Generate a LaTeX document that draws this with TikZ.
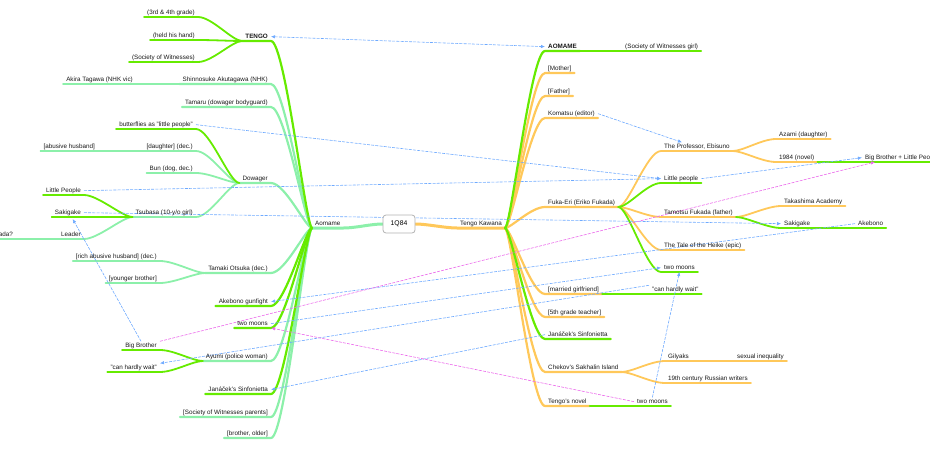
\documentclass[tikz,border=0pt]{standalone}
\usepackage{fontspec}
\setmainfont{Liberation Sans}
\usetikzlibrary{arrows.meta, backgrounds}
\definecolor{limeg}{RGB}{102,235,0}
\definecolor{mintg}{RGB}{140,240,170}
\definecolor{peach}{RGB}{255,200,90}
\definecolor{linkblue}{RGB}{110,170,255}
\definecolor{linkpink}{RGB}{235,105,235}
\newcommand{\mapfont}{\fontsize{6.3}{7}\selectfont}
\tikzstyle{topic} = [font=\mapfont, inner xsep=3pt, inner ysep=1.2pt, text height=4.6pt, text depth=1.3pt, text=black!90]
\tikzstyle{topicL} = [topic, anchor=south east]
\tikzstyle{topicR} = [topic, anchor=south west]
\tikzstyle{rootbox} = [rectangle, rounded corners=3pt, draw=gray!60, line width=0.8pt, fill=white, minimum width=32pt, minimum height=18pt, font=\fontsize{6.8}{8}\selectfont]
\tikzstyle{branch} = [line width=2.2pt, line cap=round]
\tikzstyle{twig} = [line width=1.8pt, line cap=round]
\tikzstyle{xref} = [draw=linkblue, line width=0.6pt, dash pattern=on 3pt off 1.2pt, -{Latex[length=4pt,width=3.5pt]}]
\tikzstyle{xrefpink} = [xref, draw=linkpink]

\begin{document}
\begin{tikzpicture}[x=1pt, y=-1pt]
    \useasboundingbox (0,0) rectangle (930,450);

    % Centre
    \node (root) [rootbox] at (399,224) {1Q84};
    \node (aomame) [topicR] at (312,228) {Aomame};
    \node (tk) [topicL] at (505,228) {Tengo Kawana};

    % Aomame side
    \node (tengoL) [topicL, font=\mapfont\bfseries] at (271,41) {TENGO};
    \node (grade) [topicL] at (198,17) {(3rd \& 4th grade)};
    \node (hand) [topicL] at (198,40) {(held his hand)};
    \node (sow) [topicL] at (198,62) {(Society of Witnesses)};
    \node (shin) [topicL] at (271,84) {Shinnosuke Akutagawa (NHK)};
    \node (akira) [topicL] at (136,84) {Akira Tagawa (NHK vic)};
    \node (tamaru) [topicL] at (271,107) {Tamaru (dowager bodyguard)};
    \node (butterflies) [topicL] at (196,129) {butterflies as "little people"};
    \node (daughter) [topicL] at (196,151) {[daughter] (dec.)};
    \node (abusive) [topicL] at (98,151) {[abusive husband]};
    \node (bun) [topicL] at (196,173) {Bun (dog, dec.)};
    \node (dowager) [topicL] at (271,183) {Dowager};
    \node (littleL) [topicL] at (84,195) {Little People};
    \node (tsubasa) [topicL] at (196,217) {Tsubasa (10-y/o girl)};
    \node (sakiL) [topicL] at (84,217) {Sakigake};
    \node (leader) [topicL] at (84,239) {Leader};
    \node (fukada) [topicL] at (16,239) {Fukada?};
    \node (rich) [topicL] at (160,261) {[rich abusive husband] (dec.)};
    \node (tamaki) [topicL] at (271,273) {Tamaki Otsuka (dec.)};
    \node (younger) [topicL] at (160,283) {[younger brother]};
    \node (gunfight) [topicL] at (271,306) {Akebono gunfight};
    \node (moonsL) [topicL] at (271,328) {two moons};
    \node (bigbro) [topicL] at (160,350) {Big Brother};
    \node (ayumi) [topicL] at (271,361) {Ayumi (police woman)};
    \node (waitL) [topicL] at (160,372) {"can hardly wait"};
    \node (sinfL) [topicL] at (271,394) {Janáček's Sinfonietta};
    \node (swp) [topicL] at (271,417) {[Society of Witnesses parents]};
    \node (brother) [topicL] at (271,438) {[brother, older]};

    % Tengo side
    \node (aomameR) [topicR, font=\mapfont\bfseries] at (545,51) {AOMAME};
    \node (sowgirl) [topicR] at (622,51) {(Society of Witnesses girl)};
    \node (mother) [topicR] at (545,73) {[Mother]};
    \node (father) [topicR] at (545,96) {[Father]};
    \node (komatsu) [topicR] at (545,118) {Komatsu (editor)};
    \node (azami) [topicR] at (776,139) {Azami (daughter)};
    \node (professor) [topicR] at (661,151) {The Professor, Ebisuno};
    \node (novel84) [topicR] at (776,162) {1984 (novel)};
    \node (bblp) [topicR] at (862,162) {Big Brother + Little People};
    \node (lpR) [topicR] at (661,183) {Little people};
    \node (takashima) [topicR] at (781,206) {Takashima Academy};
    \node (fukaeri) [topicR] at (545,207) {Fuka-Eri (Eriko Fukada)};
    \node (tamotsu) [topicR] at (661,217) {Tamotsu Fukada (father)};
    \node (sakiR) [topicR] at (781,228) {Sakigake};
    \node (akebonoR) [topicR] at (855,228) {Akebono};
    \node (heike) [topicR] at (661,250) {The Tale of the Heike (epic)};
    \node (moonsR) [topicR] at (661,272) {two moons};
    \node (married) [topicR] at (545,294) {[married girlfriend]};
    \node (waitR) [topicR] at (649,294) {"can hardly wait"};
    \node (fifth) [topicR] at (545,317) {[5th grade teacher]};
    \node (sinfR) [topicR] at (545,339) {Janáček's Sinfonietta};
    \node (gilyaks) [topicR] at (665,361) {Gilyaks};
    \node (inequality) [topicR] at (734,361) {sexual inequality};
    \node (chekov) [topicR] at (545,372) {Chekov's Sakhalin Island};
    \node (russian) [topicR] at (665,383) {19th century Russian writers};
    \node (novel) [topicR] at (545,406) {Tengo's novel};
    \node (moonsB) [topicR] at (634,406) {two moons};

    \begin{scope}[on background layer]
    % Branches
    \draw [branch, mintg, line width=3pt] (root.west) .. controls +(-12,0) and +(12,0) .. (aomame.south east) -- (aomame.south west);
    \draw [branch, peach, line width=3pt] (root.east) .. controls +(12,0) and +(-12,0) .. (tk.south west) -- (tk.south east);

    \foreach \c/\col in {shin/mintg, tamaru/mintg, dowager/mintg, tamaki/mintg, ayumi/mintg, swp/mintg, brother/mintg, tengoL/limeg, gunfight/limeg, moonsL/limeg, sinfL/limeg}
        \draw [branch, draw=\col] (aomame.south west) .. controls +(-6,0) and +(14,0) .. (\c.south east) -- (\c.south west);
    \foreach \c in {grade, hand, sow}
        \draw [twig, limeg] (tengoL.south west) .. controls +(-10,0) and +(14,0) .. (\c.south east) -- (\c.south west);
    \draw [twig, mintg] (shin.south west) -- (akira.south east) -- (akira.south west);
    \foreach \c/\col in {daughter/mintg, bun/mintg, tsubasa/mintg, butterflies/limeg}
        \draw [twig, draw=\col] (dowager.south west) .. controls +(-10,0) and +(14,0) .. (\c.south east) -- (\c.south west);
    \draw [twig, mintg] (daughter.south west) -- (abusive.south east) -- (abusive.south west);
    \foreach \c/\col in {leader/mintg, littleL/limeg, sakiL/limeg}
        \draw [twig, draw=\col] (tsubasa.south west) .. controls +(-10,0) and +(14,0) .. (\c.south east) -- (\c.south west);
    \draw [twig, mintg] (leader.south west) -- (fukada.south east) -- (fukada.south west);
    \foreach \c in {rich, younger}
        \draw [twig, mintg] (tamaki.south west) .. controls +(-10,0) and +(14,0) .. (\c.south east) -- (\c.south west);
    \foreach \c in {bigbro, waitL}
        \draw [twig, limeg] (ayumi.south west) .. controls +(-10,0) and +(14,0) .. (\c.south east) -- (\c.south west);

    \foreach \c/\col in {mother/peach, father/peach, komatsu/peach, fukaeri/peach, married/peach, fifth/peach, chekov/peach, novel/peach, aomameR/limeg, sinfR/limeg}
        \draw [branch, draw=\col] (tk.south east) .. controls +(6,0) and +(-14,0) .. (\c.south west) -- (\c.south east);
    \draw [twig, limeg] (aomameR.south east) -- (sowgirl.south west) -- (sowgirl.south east);
    \foreach \c/\col in {professor/peach, tamotsu/peach, heike/peach, lpR/limeg, moonsR/limeg}
        \draw [twig, draw=\col] (fukaeri.south east) .. controls +(10,0) and +(-14,0) .. (\c.south west) -- (\c.south east);
    \foreach \c in {azami, novel84}
        \draw [twig, peach] (professor.south east) .. controls +(10,0) and +(-14,0) .. (\c.south west) -- (\c.south east);
    \draw [twig, limeg] (novel84.south east) -- (bblp.south west) -- (bblp.south east);
    \draw [twig, peach] (tamotsu.south east) .. controls +(10,0) and +(-14,0) .. (takashima.south west) -- (takashima.south east);
    \draw [twig, limeg] (tamotsu.south east) .. controls +(10,0) and +(-14,0) .. (sakiR.south west) -- (sakiR.south east);
    \draw [twig, limeg] (sakiR.south east) -- (akebonoR.south west) -- (akebonoR.south east);
    \draw [twig, limeg] (married.south east) -- (waitR.south west) -- (waitR.south east);
    \foreach \c in {gilyaks, russian}
        \draw [twig, peach] (chekov.south east) .. controls +(10,0) and +(-14,0) .. (\c.south west) -- (\c.south east);
    \draw [twig, peach] (gilyaks.south east) -- (inequality.south west) -- (inequality.south east);
    \draw [twig, limeg] (novel.south east) -- (moonsB.south west) -- (moonsB.south east);

    % Cross links
    \draw [xref, {Latex[length=4pt,width=3.5pt]}-{Latex[length=4pt,width=3.5pt]}] (tengoL.east) -- (aomameR.west);
    \draw [xref] (butterflies.east) -- (lpR.west);
    \draw [xref] (littleL.east) -- (lpR.west);
    \draw [xref] (lpR.east) -- (bblp.west);
    \draw [xref] (sakiL.east) -- (sakiR.west);
    \draw [xref] (bigbro.north) -- ([xshift=21pt, yshift=-2pt]sakiL.south west);
    \draw [xref] (akebonoR.west) -- (gunfight.east);
    \draw [xref] (moonsL.east) -- (moonsR.west);
    \draw [xref] (moonsB.north) -- (moonsR.south);
    \draw [xref] (waitR.north west) -- (waitL.north east);
    \draw [xref] (sinfR.west) -- (sinfL.east);
    \draw [xref] (komatsu.east) -- ([xshift=21pt]professor.north west);
    \draw [xrefpink] (bigbro.north east) -- ([xshift=13pt]bblp.south west);
    \draw [xrefpink] (moonsB.west) -- (moonsL.south east);
    \end{scope}

\end{tikzpicture}
\end{document}
